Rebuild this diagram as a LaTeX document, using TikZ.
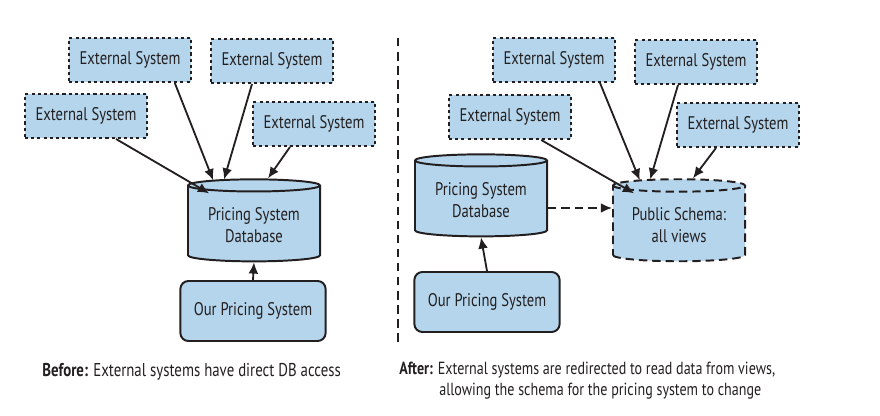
\documentclass[tikz,border=0pt]{standalone}
\usepackage{fontspec}
\setmainfont{PT Sans}[FakeStretch=0.8]
\usetikzlibrary{shapes.geometric,arrows.meta,calc}
\definecolor{boxblue}{RGB}{180,213,235}
\definecolor{inkgray}{RGB}{35,31,32}
\tikzset{
  extsys/.style={draw=inkgray,fill=boxblue,line width=1.4pt,dash pattern=on 2.2pt off 2.2pt,
    minimum width=3.05cm,minimum height=1.1cm,font=\fontsize{13}{14}\selectfont},
  dbcyl/.style={cylinder,shape border rotate=90,aspect=0.12,draw=inkgray,fill=boxblue,line width=1.4pt,
    minimum width=3.3cm,minimum height=2.05cm,align=center,font=\fontsize{13}{15.5}\selectfont},
  ourbox/.style={draw=inkgray,fill=boxblue,line width=1.4pt,rounded corners=0.2cm,
    minimum width=3.63cm,minimum height=1.5cm,font=\fontsize{13}{14}\selectfont},
  arr/.style={-{Latex[length=8pt,width=7pt]},line width=1.3pt,draw=inkgray},
  caption/.style={anchor=north west,align=left,inner sep=0pt,font=\fontsize{12.5}{15}\selectfont}
}
\begin{document}
\begin{tikzpicture}[x=0.025cm,y=-0.025cm,text=inkgray]
\useasboundingbox (0,0) rectangle (880,415);
% before
\node[extsys] (es1) at (130,60) {External System};
\node[extsys] (es2) at (272,61) {External System};
\node[extsys] (es3) at (86,116) {External System};
\node[extsys] (es4) at (314,124) {External System};
\node[dbcyl] (db) at (254,225) {Pricing System\\Database};
\node[ourbox] (ops) at (253,311) {Our Pricing System};
\draw[arr] ([xshift=1.12cm]es1.south) -- ([xshift=-1.02cm,yshift=-0.05cm]db.north);
\draw[arr] ([xshift=-0.5cm]es2.south) -- ([xshift=-0.75cm,yshift=-0.03cm]db.north);
\draw[arr] ([xshift=0.75cm]es3.south) -- ([yshift=-0.33cm]db.north west);
\draw[arr] ([xshift=-0.6cm]es4.south) -- ([xshift=0.35cm]db.north);
\draw[arr] (ops.north) -- (db.south);
% divider
\draw[inkgray,line width=1.4pt,dash pattern=on 6pt off 4pt] (398,38) -- (398,345);
% after
\node[extsys] (es5) at (554,60) {External System};
\node[extsys] (es6) at (696,62) {External System};
\node[extsys] (es7) at (510,117) {External System};
\node[extsys] (es8) at (738,125) {External System};
\node[dbcyl] (db2) at (481,200) {Pricing System\\Database};
\node[dbcyl,dash pattern=on 6pt off 3.5pt] (ps) at (679,225) {Public Schema:\\all views};
\node[ourbox] (ops2) at (487,302) {Our Pricing System};
\draw[arr] ([xshift=1.15cm]es5.south) -- ([xshift=-0.98cm,yshift=-0.05cm]ps.north);
\draw[arr] ([xshift=-0.45cm]es6.south) -- ([xshift=-0.72cm,yshift=-0.03cm]ps.north);
\draw[arr] ([xshift=0.78cm]es7.south) -- ([yshift=-0.33cm]ps.north west);
\draw[arr] ([xshift=-0.55cm]es8.south) -- ([xshift=0.35cm]ps.north);
\draw[arr] (ops2.north) -- (db2.south);
\draw[arr,dash pattern=on 6pt off 3.5pt] ([yshift=-0.2cm]db2.east) -- ([yshift=-0.2cm]db2.east -| ps.west);
% captions
\node[caption,font=\fontsize{13.2}{15}\selectfont] (cap1) at (42,363) {\textbf{Before:} External systems have direct DB access};
\node[caption] (cap2) at (399,362) {\textbf{After:} External systems are redirected to read data from views,\\
  \hspace*{1.0cm}allowing the schema for the pricing system to change};
\end{tikzpicture}
\end{document}
